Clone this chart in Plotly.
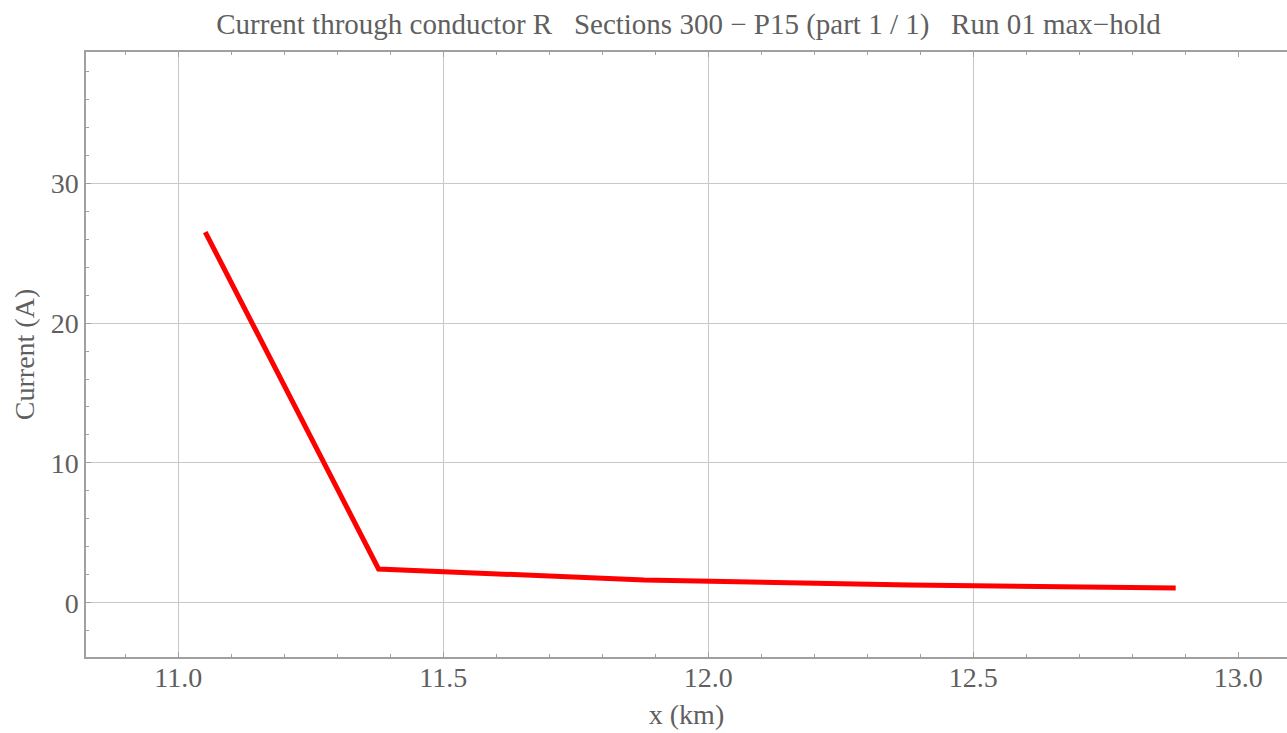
import plotly.graph_objects as go

x_km = [11.051, 11.378, 11.879, 12.380, 12.882]
current_a = [26.5, 2.43, 1.64, 1.29, 1.07]

x_ticks = [11.0, 11.5, 12.0, 12.5, 13.0]
x_tick_text = ["11.0", "11.5", "12.0", "12.5", "13.0"]
x_grid = [11.0, 11.5, 12.0, 12.5]
y_ticks = [0, 10, 20, 30]

title = "Current through conductor R   Sections 300 \u2212 P15 (part 1 / 1)   Run 01 max\u2212hold"
font_fam = "Liberation Serif, Times New Roman, serif"
txt = "#5f5f5f"
axc = "#a0a0a0"
grid = "#c8c8c8"
fs = 28

fig = go.Figure()
fig.add_trace(go.Scatter(x=x_km, y=current_a, mode="lines",
                         line=dict(color="#ff0000", width=5), showlegend=False,
                         hoverinfo="skip"))
# invisible trace carrying the grid-only overlay axis
fig.add_trace(go.Scatter(x=x_km, y=current_a, mode="lines", xaxis="x2",
                         line=dict(color="rgba(0,0,0,0)", width=0), showlegend=False,
                         hoverinfo="skip"))

fig.update_layout(
    width=1287, height=733,
    margin=dict(l=86, r=0, t=52, b=76),
    paper_bgcolor="white", plot_bgcolor="white",
    title=dict(text=title, x=0.535, xanchor="center", y=0.968, yanchor="middle",
               font=dict(family=font_fam, size=29, color=txt)),
    xaxis=dict(range=[10.826, 13.092], tickvals=x_ticks, ticktext=x_tick_text,
               showline=True, linecolor=axc, linewidth=1.5, mirror="ticks",
               ticks="inside", ticklen=5, tickcolor=axc, showgrid=False, zeroline=False,
               ticklabelstandoff=-5,
               tickfont=dict(family=font_fam, size=fs, color=txt),
               minor=dict(dtick=0.1, tick0=11.0, ticks="inside", ticklen=3, tickcolor=axc, showgrid=False),
               title=dict(text="x (km)", font=dict(family=font_fam, size=fs, color=txt), standoff=12)),
    xaxis2=dict(overlaying="x", matches="x", range=[10.826, 13.092], tickvals=x_grid,
                showgrid=True, gridcolor=grid, gridwidth=1, showticklabels=False,
                ticks="", showline=False, zeroline=False),
    yaxis=dict(range=[-3.86, 39.36], tickvals=y_ticks,
               showline=True, linecolor=axc, linewidth=1.5, mirror=False,
               ticks="inside", ticklen=5, tickcolor=axc, showgrid=True,
               gridcolor=grid, gridwidth=1, zeroline=False,
               tickfont=dict(family=font_fam, size=fs, color=txt),
               minor=dict(dtick=2, tick0=0, ticks="inside", ticklen=3, tickcolor=axc, showgrid=False),
               title=dict(text="Current (A)", font=dict(family=font_fam, size=fs, color=txt), standoff=8)),
)

fig.write_html("out.html")
